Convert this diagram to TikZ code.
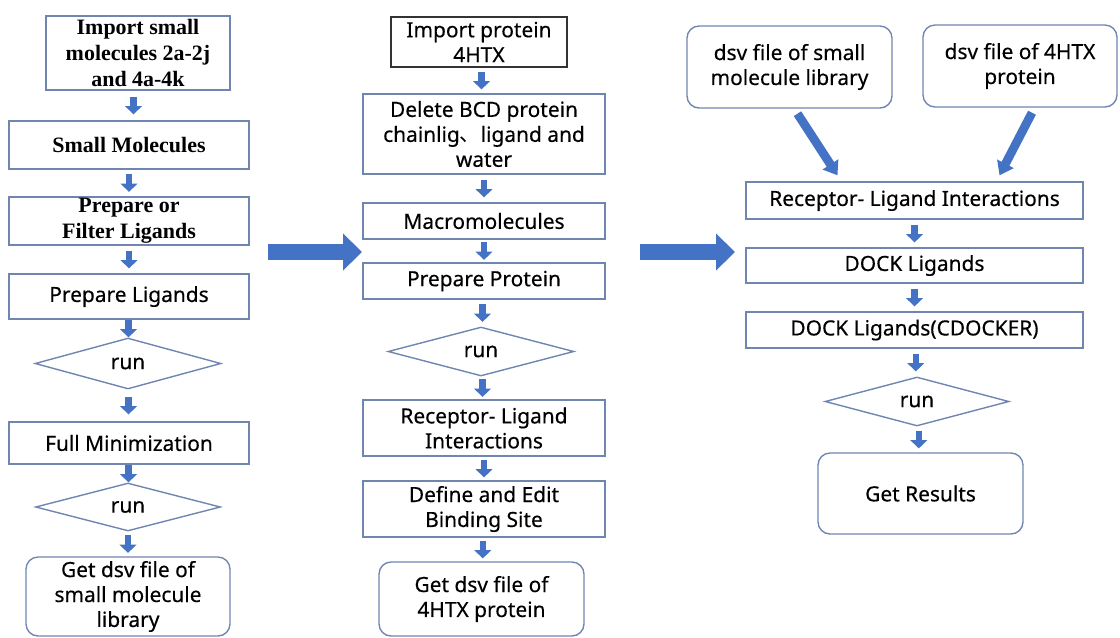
\documentclass[tikz,border=0pt]{standalone}
\usepackage{fontspec}
\setmainfont{Noto Sans}[FakeBold=0.35]
\newfontfamily\serifbf{Liberation Serif}
\newfontfamily\cjk{Noto Sans CJK SC}
\usetikzlibrary{shapes.geometric,arrows.meta,calc}

\definecolor{boxline}{RGB}{112,134,176}
\definecolor{arrowblue}{RGB}{68,114,196}

\tikzset{
  stepbox/.style={draw=boxline, line width=0.8pt, fill=white, align=center,
    inner sep=0pt, font=\fontsize{11.9}{14.2}\selectfont},
  serifbox/.style={stepbox, font=\serifbf\bfseries\fontsize{12.5}{14.8}\selectfont},
  endbox/.style={stepbox, rounded corners=0.24cm},
  runbox/.style={stepbox, diamond, aspect=3.6},
  flow/.style={arrowblue, line width=3.6pt,
    -{Triangle[width=0.33cm,length=0.17cm]}},
  bigflow/.style={arrowblue, line width=9.6pt,
    -{Triangle[width=0.72cm,length=0.38cm]}},
  slantflow/.style={arrowblue, line width=5pt,
    -{Triangle[width=0.36cm,length=0.26cm]}}
}

\begin{document}
\begin{tikzpicture}[x=0.02cm, y=-0.02cm]
\useasboundingbox (0,0) rectangle (1120,637);

% Left column: small molecules
\node[serifbox, minimum width=3.68cm, minimum height=1.48cm] (imp) at (138,53)
  {Import small\\molecules 2a-2j\\and 4a-4k};
\node[serifbox, minimum width=4.8cm, minimum height=0.96cm] (small) at (129,145) {Small Molecules};
\node[serifbox, minimum width=4.8cm, minimum height=0.96cm] (filt) at (129,221) {Prepare or\\Filter Ligands};
\node[stepbox, minimum width=4.8cm, minimum height=0.9cm] (prep) at (129,296.5) {Prepare Ligands};
\node[runbox, minimum width=3.72cm, minimum height=1.02cm] (runA) at (128,363.5) {run};
\node[stepbox, minimum width=4.8cm, minimum height=0.84cm] (fullmin) at (129,443) {Full Minimization};
\node[runbox, minimum width=3.7cm, minimum height=0.96cm] (runB) at (128,507) {run};
\node[endbox, minimum width=4.08cm, minimum height=1.58cm] (getlib) at (128,596.5)
  {Get dsv file of\\small molecule\\library};

% Middle column: protein
\node[stepbox, draw=black!80, minimum width=3.52cm, minimum height=1.0cm] (impprot) at (479,42)
  {Import protein\\4HTX};
\node[stepbox, minimum width=4.84cm, minimum height=1.6cm] (delete) at (484,134)
  {Delete BCD protein\\chainlig{\cjk 、}ligand and\\water};
\node[stepbox, minimum width=4.84cm, minimum height=0.72cm] (macro) at (484,221) {Macromolecules};
\node[stepbox, minimum width=4.84cm, minimum height=0.72cm] (prepprot) at (484,281) {Prepare Protein};
\node[runbox, minimum width=3.72cm, minimum height=0.98cm] (runC) at (481,351.5) {run};
\node[stepbox, minimum width=4.84cm, minimum height=1.12cm] (rliA) at (484,428)
  {Receptor- Ligand\\Interactions};
\node[stepbox, minimum width=4.84cm, minimum height=1.12cm] (site) at (484,509)
  {Define and Edit\\Binding Site};
\node[endbox, minimum width=4.1cm, minimum height=1.48cm] (getprot) at (481.5,599)
  {Get dsv file of\\4HTX protein};

% Right column: docking
\node[endbox, minimum width=4.1cm, minimum height=1.64cm] (dsvlib) at (789.5,67)
  {dsv file of small\\molecule library};
\node[endbox, minimum width=3.88cm, minimum height=1.64cm] (dsvprot) at (1020,66)
  {dsv file of 4HTX\\protein};
\node[stepbox, minimum width=6.74cm, minimum height=0.74cm] (rliB) at (914.5,200.5)
  {Receptor- Ligand Interactions};
\node[stepbox, minimum width=6.74cm, minimum height=0.7cm] (dock) at (914.5,265.5) {DOCK Ligands};
\node[stepbox, minimum width=6.74cm, minimum height=0.72cm] (cdock) at (914.5,330) {DOCK Ligands(CDOCKER)};
\node[runbox, minimum width=3.68cm, minimum height=0.98cm] (runD) at (917,401.5) {run};
\node[endbox, minimum width=4.1cm, minimum height=1.62cm] (results) at (920.5,493.5) {Get Results};

% Small arrows between steps
\foreach \a/\b in {imp/small, small/filt, filt/prep, prep/runA, runA/fullmin, fullmin/runB, runB/getlib,
    impprot/delete, delete/macro, macro/prepprot, prepprot/runC, runC/rliA, rliA/site, site/getprot,
    rliB/dock, dock/cdock, cdock/runD, runD/results} {
  \draw[flow] ($(\a.south)!0.5!(\b.north)+(0,-9)$) -- ($(\a.south)!0.5!(\b.north)+(0,9)$);
}

% Big arrows between columns
\coordinate (bigAs) at (268,252);
\coordinate (bigAe) at (362,252);
\coordinate (bigBs) at (640,252);
\coordinate (bigBe) at (735,252);
\draw[bigflow] (bigAs) -- (bigAe);
\draw[bigflow] (bigBs) -- (bigBe);

% Inputs of the docking
\draw[slantflow] ($(dsvlib.south)+(8,5)$) -- ($(rliB.north)+(-77,-6)$);
\draw[slantflow] ($(dsvprot.south)+(12,5)$) -- ($(rliB.north)+(85,-6)$);

\end{tikzpicture}
\end{document}
